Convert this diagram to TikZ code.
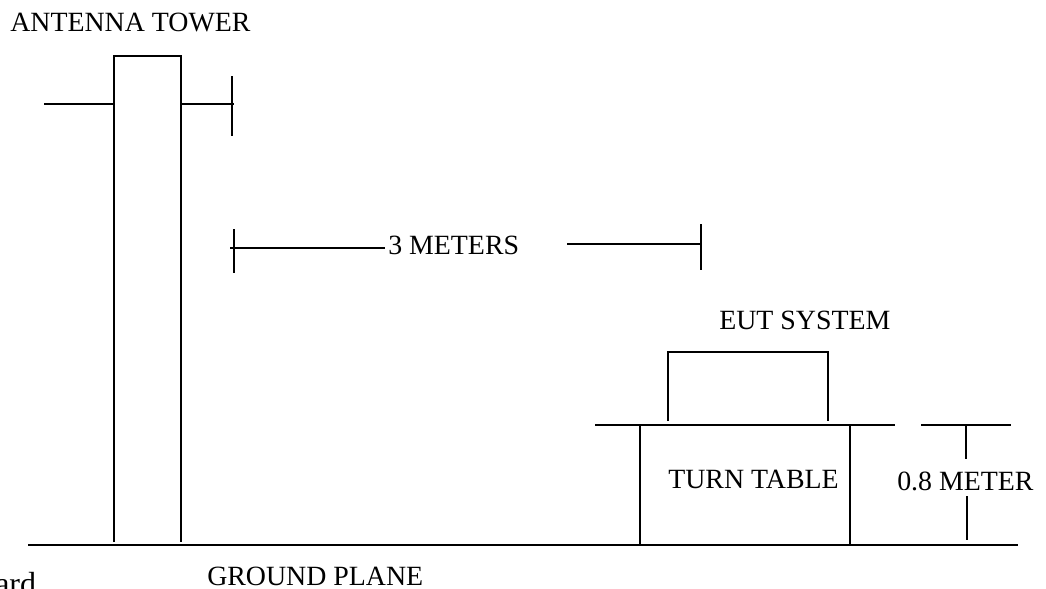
\documentclass[tikz,border=0pt]{standalone}
\usepackage{fontspec}
\setmainfont{Liberation Serif}
\tikzset{
  ln/.style={draw=black,line width=1.5pt,line cap=butt},
  lbl/.style={inner sep=0pt,anchor=base west,font=\fontsize{20.9pt}{24pt}\selectfont,text=black}
}
\begin{document}
\begin{tikzpicture}[x=0.75pt,y=-0.75pt]
\useasboundingbox[clip] (0,0) rectangle (1046,589);
\fill[white] (0,0) rectangle (1046,589);
% tower
\coordinate (tbl) at (113.5,542); \coordinate (ttl) at (113.5,55.5);
\coordinate (ttr) at (180.5,55.5); \coordinate (tbr) at (180.5,542);
\draw[ln,line join=miter] (tbl) -- (ttl) -- (ttr) -- (tbr);
\coordinate (al) at (44,104); \coordinate (ar) at (234,104);
\draw[ln] (al) -- (113.5,104);
\draw[ln] (180.5,104) -- (ar);
\coordinate (at) at (232,76); \coordinate (ab) at (232,136);
\draw[ln] (at) -- (ab);
% ground
\coordinate (g1) at (28,545); \coordinate (g2) at (1018,545);
\draw[ln,line width=1.7pt] (g1) -- (g2);
% 3 meters
\coordinate (m1) at (233.5,229); \coordinate (m2) at (233.5,273);
\draw[ln] (m1) -- (m2);
\coordinate (d1) at (230,247.5);
\node[lbl] (threem) at (388,254) {3 METERS};
\draw[ln] (d1) -- ([xshift=-2.25pt]threem.base west |- d1);
\coordinate (r1) at (567,243.5); \coordinate (r2) at (701,243.5);
\draw[ln] (r1) -- (r2);
\coordinate (r3) at (701,224); \coordinate (r4) at (701,270);
\draw[ln] (r3) -- (r4);
% EUT
\node[lbl] (eut) at (719,329) {EUT SYSTEM};
\coordinate (e1) at (667.5,421); \coordinate (e2) at (667.5,351.5);
\coordinate (e3) at (827.5,351.5); \coordinate (e4) at (827.5,421);
\draw[ln] (e1) -- (e2) -- (e3) -- (e4);
% table
\coordinate (t1) at (595,424.5); \coordinate (t2) at (895,424.5);
\draw[ln] (t1) -- (t2);
\coordinate (c1) at (639.5,425); \coordinate (c2) at (639.5,545);
\coordinate (c3) at (850,425); \coordinate (c4) at (850,545);
\draw[ln] (c1) -- (c2);
\draw[ln] (c3) -- (c4);
\node[lbl] (tt) at (668,488) {TURN TABLE};
% 0.8 meter
\coordinate (h1) at (921,425); \coordinate (h2) at (1011,425);
\draw[ln] (h1) -- (h2);
\coordinate (v1) at (966,424); \coordinate (v2) at (966,459);
\draw[ln] (v1) -- (v2);
\coordinate (v3) at (967,496); \coordinate (v4) at (967,540);
\draw[ln] (v3) -- (v4);
\node[lbl] (om) at (897,490) {0.8 METER};
% texts
\node[lbl] (tower) at (10,31.5) {ANTENNA TOWER};
\node[lbl] (gp) at (207,585) {GROUND PLANE};
\node[lbl,font=\fontsize{24pt}{28pt}\selectfont] (ard) at (-5,594) {ard};
\end{tikzpicture}
\end{document}
